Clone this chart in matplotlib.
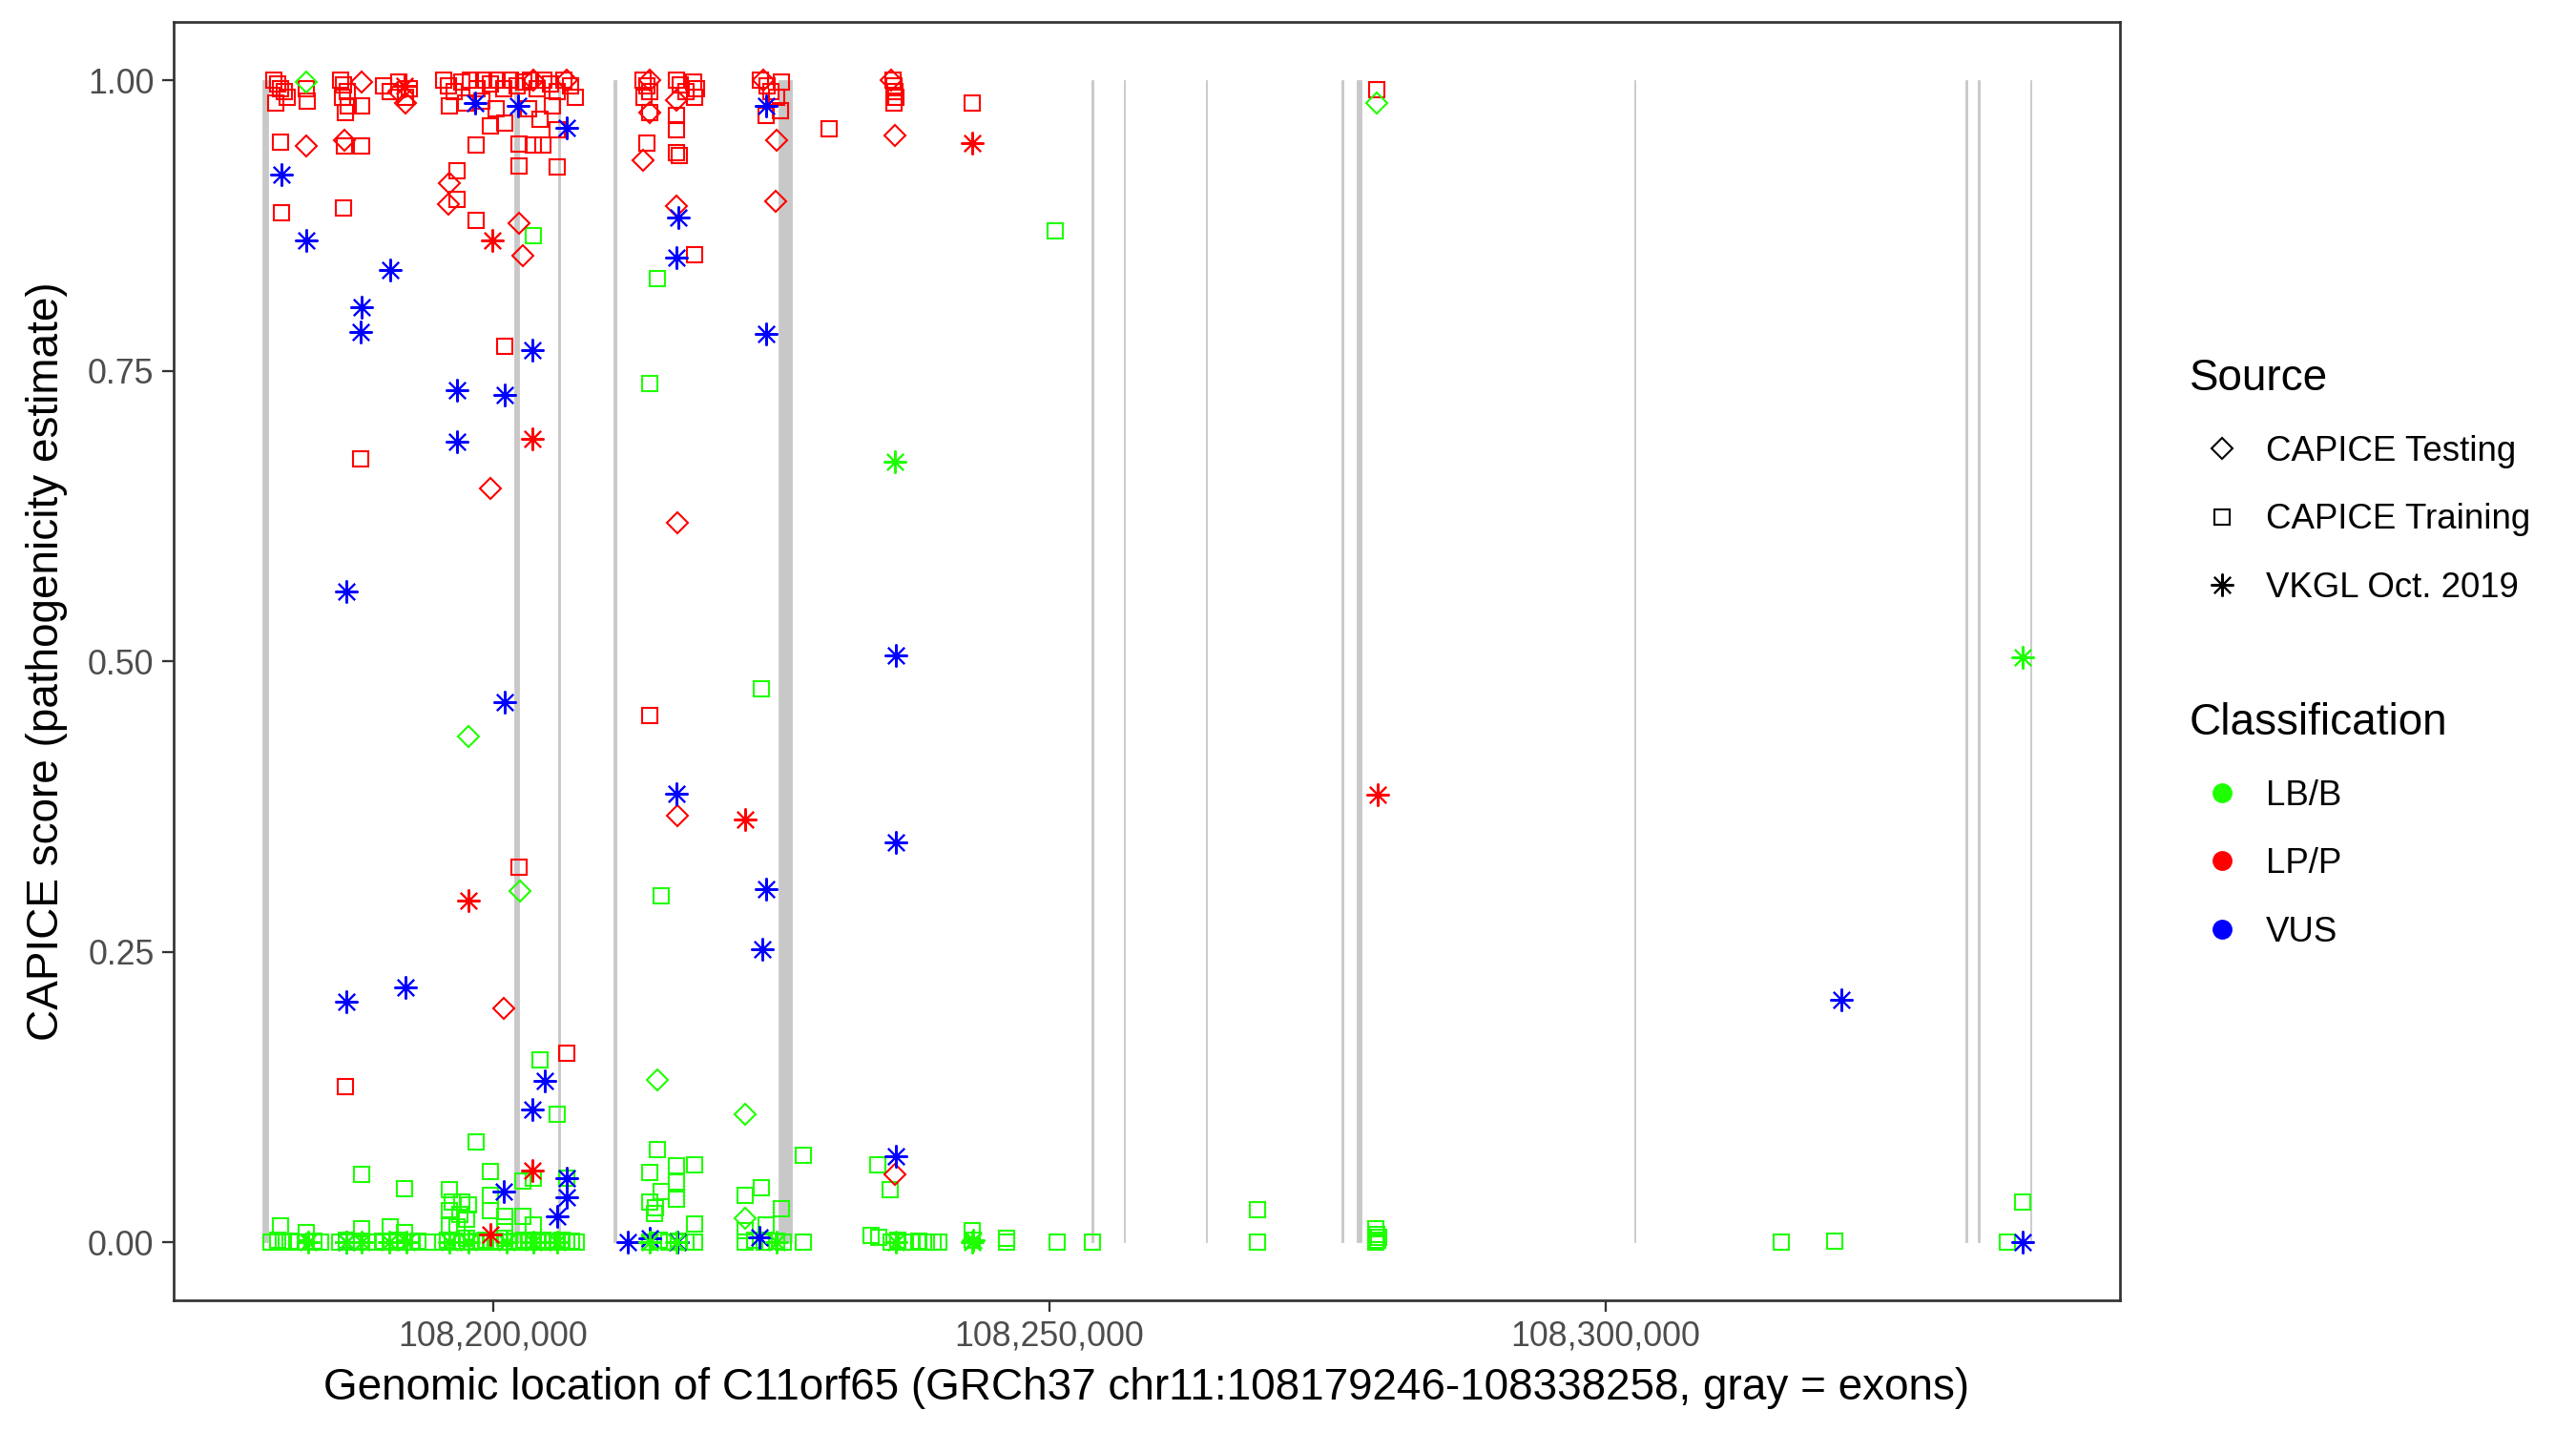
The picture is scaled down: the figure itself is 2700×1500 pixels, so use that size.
import matplotlib
matplotlib.use('Agg')
import matplotlib.pyplot as plt
from matplotlib.lines import Line2D
from matplotlib.ticker import FuncFormatter

plt.rcParams['font.family'] = ['Liberation Sans', 'DejaVu Sans']

GENE_START = 108179246
GENE_END = 108338258

# exons of C11orf65 (start, end)
exon_start = [108179246, 108201900, 108205860, 108210860, 108225636, 108253780, 108256650,
              108264030, 108276210, 108277590, 108302520, 108332300, 108333410, 108338100]
exon_end = [108179750, 108202330, 108206010, 108211060, 108226837, 108253930, 108256790,
            108264170, 108276370, 108278000, 108302660, 108332470, 108333580, 108338258]

# (position, CAPICE score) per source / classification
train_lbb = [
    (108203601, 0.866), (108214790, 0.829), (108214061, 0.739), (108224093, 0.476), (108215090, 0.298),
    (108250500, 0.870), (108204201, 0.157), (108205745, 0.110), (108198457, 0.086), (108188168, 0.058),
    (108192026, 0.046), (108199743, 0.061), (108202658, 0.053), (108203601, 0.055), (108206602, 0.055),
    (108196056, 0.045), (108199743, 0.040), (108199743, 0.027), (108196313, 0.035), (108197171, 0.035),
    (108197771, 0.032), (108196056, 0.027), (108197000, 0.024), (108197600, 0.020), (108196056, 0.015),
    (108196800, 0.013), (108201029, 0.022), (108202658, 0.022), (108203601, 0.015), (108201029, 0.013),
    (108180880, 0.014), (108183195, 0.008), (108188168, 0.012), (108190740, 0.013), (108192026, 0.008),
    (108214061, 0.060), (108214790, 0.080), (108227866, 0.075), (108234553, 0.067), (108235668, 0.045),
    (108216505, 0.066), (108218091, 0.067), (108216505, 0.052), (108215090, 0.044), (108214061, 0.035),
    (108214600, 0.030), (108214500, 0.025), (108216505, 0.037), (108218091, 0.016), (108224093, 0.047),
    (108222678, 0.040), (108225893, 0.029), (108222678, 0.010), (108224564, 0.015), (108243041, 0.010),
    (108246128, 0.003), (108268678, 0.028), (108279310, 0.012), (108279400, 0.007), (108279500, 0.002),
    (108337441, 0.035),
    (108180023, 0.0), (108180623, 0.002), (108181137, 0.0), (108181737, 0.001), (108182338, 0.0),
    (108183195, 0.0), (108183881, 0.001), (108184481, 0.0), (108186196, 0.0), (108186796, 0.002),
    (108187482, 0.0), (108188168, 0.001), (108188768, 0.0), (108189454, 0.0), (108190054, 0.001),
    (108190740, 0.0), (108191340, 0.002), (108192026, 0.0), (108192626, 0.0), (108193227, 0.001),
    (108194084, 0.0), (108195456, 0.0), (108195884, 0.002), (108196313, 0.0), (108196742, 0.001),
    (108197171, 0.0), (108197599, 0.003), (108198028, 0.0), (108198457, 0.001), (108198885, 0.0),
    (108199314, 0.002), (108199743, 0.0), (108200171, 0.001), (108200600, 0.0), (108201029, 0.003),
    (108201458, 0.0), (108201886, 0.001), (108202315, 0.0), (108202744, 0.002), (108203172, 0.0),
    (108203601, 0.001), (108204030, 0.0), (108204458, 0.002), (108204887, 0.0), (108205316, 0.001),
    (108205745, 0.0), (108206173, 0.002), (108206602, 0.0), (108207031, 0.001), (108207459, 0.0),
    (108214061, 0.0), (108214919, 0.002), (108215776, 0.0), (108216634, 0.001), (108217319, 0.0),
    (108218091, 0.0), (108222635, 0.0), (108223493, 0.002), (108224350, 0.0), (108225465, 0.001),
    (108226065, 0.0), (108227866, 0.0), (108233953, 0.006), (108234639, 0.004), (108235754, 0.0),
    (108236354, 0.002), (108237040, 0.0), (108237640, 0.0), (108238240, 0.001), (108238926, 0.0),
    (108239526, 0.0), (108240041, 0.0), (108243041, 0.002), (108246128, 0.0), (108250672, 0.0),
    (108253845, 0.0), (108268678, 0.0), (108279310, 0.0), (108279567, 0.004), (108315749, 0.0),
    (108320550, 0.001), (108336069, 0.0),
]

train_lpp = [
    (108180300, 1.000), (108180600, 0.997), (108180900, 0.993), (108181200, 0.990), (108181500, 0.985),
    (108180500, 0.980), (108183200, 0.993), (108183300, 0.982), (108186300, 1.000), (108186600, 0.996),
    (108186900, 0.990), (108186500, 0.985), (108187000, 0.978), (108186700, 0.972), (108188168, 0.978),
    (108188168, 0.943), (108186625, 0.943), (108180880, 0.947), (108180966, 0.886), (108186539, 0.890),
    (108190200, 0.995), (108190800, 0.990), (108191500, 0.998), (108192100, 0.985), (108192500, 0.993),
    (108195600, 1.000), (108196000, 0.995), (108196500, 0.990), (108197200, 0.998), (108198000, 1.000),
    (108198600, 0.993), (108199200, 1.000), (108199800, 0.997), (108200400, 1.000), (108201000, 0.993),
    (108201600, 1.000), (108202200, 0.995), (108202800, 0.998), (108203400, 1.000), (108204000, 0.993),
    (108204600, 1.000), (108205200, 0.997), (108205800, 0.990), (108206400, 1.000), (108207000, 0.995),
    (108207400, 0.985), (108197500, 0.980), (108199000, 0.982), (108200300, 0.975), (108203200, 0.975),
    (108205300, 0.978), (108196056, 0.978), (108199743, 0.961), (108201029, 0.963), (108204201, 0.966),
    (108205745, 0.957), (108198457, 0.944), (108202315, 0.945), (108203601, 0.944), (108204458, 0.944),
    (108202315, 0.926), (108205745, 0.925), (108196742, 0.922), (108196742, 0.897), (108198457, 0.879),
    (108201029, 0.771), (108188082, 0.674), (108202315, 0.323), (108206602, 0.163), (108186710, 0.134),
    (108213461, 1.000), (108213800, 0.995), (108214061, 0.990), (108213600, 0.985), (108214061, 0.972),
    (108213800, 0.946), (108216505, 1.000), (108216800, 0.996), (108217300, 0.990), (108218000, 0.998),
    (108218091, 0.985), (108218300, 0.993), (108216505, 0.970), (108216505, 0.957), (108216505, 0.938),
    (108216700, 0.935), (108218091, 0.850), (108214061, 0.453), (108224000, 1.000), (108224600, 0.995),
    (108225000, 0.990), (108225500, 0.985), (108225900, 0.998), (108224564, 0.970), (108225800, 0.974),
    (108230180, 0.958), (108235900, 1.000), (108236000, 0.995), (108236100, 0.990), (108236200, 0.985),
    (108236000, 0.980), (108243041, 0.980), (108279438, 0.992),
]

test_lbb = [
    (108183195, 0.998), (108197771, 0.435), (108202400, 0.302), (108214790, 0.140), (108222678, 0.110),
    (108222635, 0.021), (108279438, 0.980),
]

test_lpp = [
    (108183195, 0.943), (108186625, 0.948), (108188168, 0.998), (108192112, 0.980), (108191500, 0.990),
    (108196056, 0.911), (108195970, 0.893), (108202315, 0.877), (108202658, 0.849), (108199743, 0.649),
    (108200943, 0.201), (108203601, 1.000), (108206602, 1.000), (108213461, 0.931), (108214061, 0.972),
    (108214061, 1.000), (108216505, 0.983), (108216505, 0.892), (108216590, 0.619), (108216590, 0.367),
    (108224300, 1.000), (108225508, 0.948), (108225422, 0.896), (108235800, 1.000), (108236139, 0.952),
    (108236096, 0.058),
]

vkgl_vus = [
    (108180966, 0.919), (108183195, 0.862), (108190740, 0.837), (108188168, 0.805), (108188082, 0.783),
    (108186796, 0.560), (108186796, 0.207), (108192112, 0.219), (108196742, 0.733), (108196742, 0.689),
    (108201029, 0.729), (108201029, 0.465), (108198371, 0.980), (108202229, 0.978), (108206602, 0.959),
    (108203515, 0.768), (108204630, 0.139), (108203515, 0.114), (108206602, 0.055), (108206602, 0.039),
    (108200943, 0.044), (108205745, 0.022), (108186796, 0.0), (108212089, 0.0), (108214061, 0.003),
    (108216550, 0.0), (108216634, 0.882), (108216462, 0.847), (108216462, 0.386), (108224522, 0.978),
    (108224522, 0.782), (108224522, 0.304), (108224178, 0.252), (108223921, 0.004), (108236182, 0.505),
    (108236182, 0.344), (108236182, 0.074), (108321151, 0.209), (108337441, 0.0),
]

vkgl_lbb = [
    (108236096, 0.672), (108337441, 0.503), (108183366, 0.0), (108186796, 0.0), (108188168, 0.0),
    (108190654, 0.0), (108192197, 0.0), (108196056, 0.0), (108197771, 0.0), (108201200, 0.0),
    (108203601, 0.0), (108205745, 0.0), (108214061, 0.0), (108216462, 0.0), (108225465, 0.0),
    (108236182, 0.0), (108243041, 0.0), (108243127, 0.002),
]

vkgl_lpp = [
    (108199914, 0.862), (108203515, 0.691), (108197771, 0.294), (108203515, 0.062), (108199743, 0.007),
    (108222635, 0.364), (108243041, 0.946), (108279481, 0.385), (108192026, 0.995),
]

GREEN = '#1EFF00'
RED = '#FF0000'
BLUE = '#0000FF'
ASTERISK = (8, 2, 0)
MS = {'s': 7.6, 'D': 7.4, ASTERISK: 11.5}

fig = plt.figure(figsize=(18, 10), dpi=150)
ax = fig.add_axes([0.0674, 0.0913, 0.7556, 0.8933])

widths = [e - s for s, e in zip(exon_start, exon_end)]
ax.bar(exon_start, [1.0] * len(exon_start), width=widths, bottom=0, align='edge',
       color='#C8C8C8', edgecolor='#C8C8C8', linewidth=0.4, zorder=1)

layers = [
    (train_lbb, 's', GREEN), (train_lpp, 's', RED),
    (test_lbb, 'D', GREEN), (test_lpp, 'D', RED),
    (vkgl_vus, ASTERISK, BLUE), (vkgl_lbb, ASTERISK, GREEN), (vkgl_lpp, ASTERISK, RED),
]
for data, marker, color in layers:
    xs = [p for p, _ in data]
    ys = [v for _, v in data]
    ax.plot(xs, ys, linestyle='none', marker=marker, markersize=MS[marker],
            markerfacecolor='none', markeredgecolor=color, markeredgewidth=1.0, zorder=3)

span = GENE_END - GENE_START
ax.set_xlim(GENE_START - 0.05 * span, GENE_END + 0.05 * span)
ax.set_ylim(-0.05, 1.05)
ax.set_xticks([108200000, 108250000, 108300000])
ax.xaxis.set_major_formatter(FuncFormatter(lambda x, _: f'{x:,.0f}'))
ax.set_yticks([0, 0.25, 0.5, 0.75, 1.0])
ax.yaxis.set_major_formatter(FuncFormatter(lambda y, _: f'{y:.2f}'))
ax.tick_params(axis='both', length=5.8, width=1.1, color='#333333',
               labelsize=17.2, labelcolor='#4D4D4D', pad=4)
for sp in ax.spines.values():
    sp.set_color('#333333')
    sp.set_linewidth(1.3)

ax.set_xlabel('Genomic location of C11orf65 (GRCh37 chr11:108179246-108338258, gray = exons)',
              fontsize=22, labelpad=7)
ax.set_ylabel('CAPICE score (pathogenicity estimate)', fontsize=22, labelpad=10)

src_handles = [
    Line2D([], [], linestyle='none', marker='D', markersize=MS['D'], markerfacecolor='none',
           markeredgecolor='black', markeredgewidth=1.0),
    Line2D([], [], linestyle='none', marker='s', markersize=MS['s'], markerfacecolor='none',
           markeredgecolor='black', markeredgewidth=1.0),
    Line2D([], [], linestyle='none', marker=ASTERISK, markersize=MS[ASTERISK],
           markeredgecolor='black', markeredgewidth=1.0),
]
cls_handles = [
    Line2D([], [], linestyle='none', marker='o', markersize=9, color=c) for c in (GREEN, RED, BLUE)
]
leg_kw = dict(loc='upper left', frameon=False, borderpad=0, borderaxespad=0, fontsize=17.6,
              title_fontsize=22, alignment='left', handlelength=1.86, handletextpad=0.33,
              labelspacing=1.0)
leg1 = fig.legend(src_handles, ['CAPICE Testing', 'CAPICE Training', 'VKGL Oct. 2019'],
                  title='Source', bbox_to_anchor=(2295 / 2700, 1 - 375 / 1500), **leg_kw)
leg2 = fig.legend(cls_handles, ['LB/B', 'LP/P', 'VUS'],
                  title='Classification', bbox_to_anchor=(2295 / 2700, 1 - 736 / 1500), **leg_kw)

fig.savefig('out.png', dpi=150)
